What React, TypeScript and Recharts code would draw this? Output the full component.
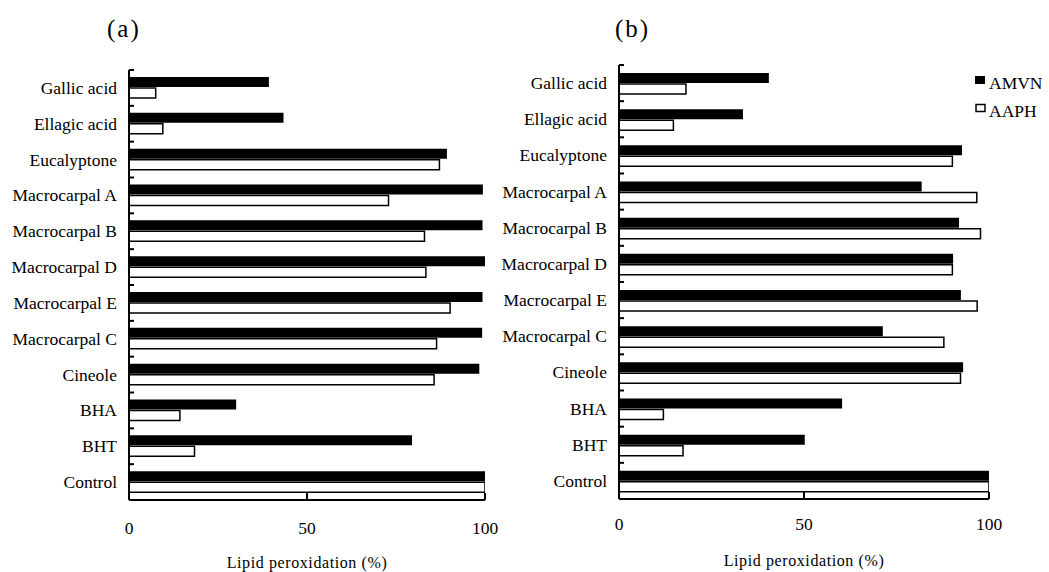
import React from 'react';
import { BarChart, Bar, XAxis, YAxis, Legend } from 'recharts';

const categories = ['Gallic acid', 'Ellagic acid', 'Eucalyptone', 'Macrocarpal A', 'Macrocarpal B', 'Macrocarpal D', 'Macrocarpal E', 'Macrocarpal C', 'Cineole', 'BHA', 'BHT', 'Control'];
const amvnA = [39.3, 43.4, 89.3, 99.4, 99.3, 100, 99.3, 99.2, 98.4, 30.1, 79.5, 100];
const aaphA = [7.5, 9.5, 87.2, 72.9, 83.0, 83.4, 90.2, 86.4, 85.7, 14.3, 18.4, 100];
const amvnB = [40.5, 33.5, 92.7, 81.8, 91.9, 90.3, 92.4, 71.3, 93.0, 60.3, 50.2, 100];
const aaphB = [18.1, 14.7, 90.1, 96.7, 97.7, 90.1, 96.8, 87.8, 92.3, 12.0, 17.3, 100];
const xTicks = [0, 50, 100];
const seriesNames = ['AMVN', 'AAPH'];
const xLabel = 'Lipid peroxidation (%)';
const panelTitles = ['(a)', '(b)'];

const FONT = '"Liberation Serif", "Times New Roman", serif';
const TICK_MARGIN = 12;

const buildData = (a: number[], b: number[]) =>
  categories.map((name, i) => ({ name, AMVN: a[i], AAPH: b[i] }));

const dataA = buildData(amvnA, aaphA);
const dataB = buildData(amvnB, aaphB);

const YTick = (props: any) => {
  const { x, y, payload } = props;
  const axisX = x + TICK_MARGIN;
  const half = payload && typeof payload.offset === 'number' ? payload.offset : 18;
  return (
    <g>
      <line x1={axisX} x2={axisX + 5} y1={y - half} y2={y - half} stroke="#000" strokeWidth={2} />
      <text x={x} y={y + 6} textAnchor="end" fontFamily={FONT} fontSize={17.5} fill="#000">
        {payload.value}
      </text>
    </g>
  );
};

const makeXTick = (labelDy: number) => (props: any) => {
  const { x, y, payload } = props;
  return (
    <g>
      <line x1={x} x2={x} y1={y - 7} y2={y} stroke="#000" strokeWidth={2} />
      <text x={x} y={y + labelDy} textAnchor="middle" fontFamily={FONT} fontSize={17.5} fill="#000">
        {payload.value}
      </text>
    </g>
  );
};

const makeXLabel = (dy: number) => (props: any) => {
  const vb = props.viewBox || {};
  return (
    <text
      x={vb.x + vb.width / 2}
      y={vb.y + dy}
      textAnchor="middle"
      fontFamily={FONT}
      fontSize={16}
      letterSpacing={0.6}
      fill="#000"
    >
      {xLabel}
    </text>
  );
};

const renderLegend = (props: any) => {
  const payload = props.payload || [];
  const items = seriesNames.filter((n) => payload.some((p: any) => p.value === n));
  return (
    <svg width={80} height={60} style={{ display: 'block', overflow: 'visible' }}>
      {items.map((name: string, i: number) => {
        const filled = name === seriesNames[0];
        return (
          <g key={name} transform={`translate(0, ${i * 28})`}>
            <rect
              x={filled ? 0 : 1}
              y={filled ? 6 : 6.5}
              width={filled ? 10 : 9}
              height={filled ? 8 : 7}
              fill={filled ? '#000' : '#fff'}
              stroke="#000"
              strokeWidth={filled ? 0 : 1.5}
            />
            <text x={14} y={19} fontFamily={FONT} fontSize={17.5} fill="#000">
              {name}
            </text>
          </g>
        );
      })}
    </svg>
  );
};

type PanelProps = {
  data: any[];
  width: number;
  margin: { top: number; right: number; bottom: number; left: number };
  tickDy: number;
  labelDy: number;
  legendLeft?: number;
};

const Panel = ({ data, width, margin, tickDy, labelDy, legendLeft }: PanelProps) => (
  <BarChart
    width={width}
    height={572}
    data={data}
    layout="vertical"
    margin={margin}
    barSize={10}
    barGap={1}
  >
    <XAxis
      type="number"
      domain={[0, 100]}
      ticks={xTicks}
      allowDataOverflow
      axisLine={{ stroke: '#000', strokeWidth: 2 }}
      tickLine={false}
      tickSize={0}
      tickMargin={0}
      height={30}
      tick={makeXTick(tickDy)}
      label={makeXLabel(labelDy)}
    />
    <YAxis
      type="category"
      dataKey="name"
      width={60}
      interval={0}
      axisLine={{ stroke: '#000', strokeWidth: 2 }}
      tickLine={false}
      tickSize={0}
      tickMargin={TICK_MARGIN}
      tick={YTick}
    />
    {legendLeft !== undefined && (
      <Legend
        layout="horizontal"
        verticalAlign="middle"
        align="center"
        content={renderLegend}
        wrapperStyle={{ position: 'absolute', left: legendLeft, top: 70, width: 80, height: 60 }}
      />
    )}
    <Bar dataKey="AMVN" name={seriesNames[0]} fill="#000" isAnimationActive={false} />
    <Bar dataKey="AAPH" name={seriesNames[1]} fill="#fff" stroke="#000" strokeWidth={1.5} isAnimationActive={false} />
  </BarChart>
);

export default function App() {
  return (
    <div style={{ position: 'relative', width: 1049, height: 572, background: '#fff', overflow: 'hidden' }}>
      <style>{'body{margin:0;background:#fff;}'}</style>
      <div style={{ position: 'absolute', left: 0, top: 0 }}>
        <Panel
          data={dataA}
          width={520}
          margin={{ top: 70, right: 35, bottom: 42, left: 69 }}
          tickDy={34}
          labelDy={68}
        />
      </div>
      <div style={{ position: 'absolute', left: 420, top: 0 }}>
        <Panel
          data={dataB}
          width={629}
          margin={{ top: 65, right: 60, bottom: 43, left: 139 }}
          tickDy={31}
          labelDy={67}
          legendLeft={555}
        />
      </div>
      <svg width={1049} height={60} style={{ position: 'absolute', left: 0, top: 0, pointerEvents: 'none' }}>
        <text x={107} y={37} fontFamily={FONT} fontSize={25} letterSpacing={2} fill="#000">
          {panelTitles[0]}
        </text>
        <text x={615} y={37} fontFamily={FONT} fontSize={25} letterSpacing={2} fill="#000">
          {panelTitles[1]}
        </text>
      </svg>
    </div>
  );
}
